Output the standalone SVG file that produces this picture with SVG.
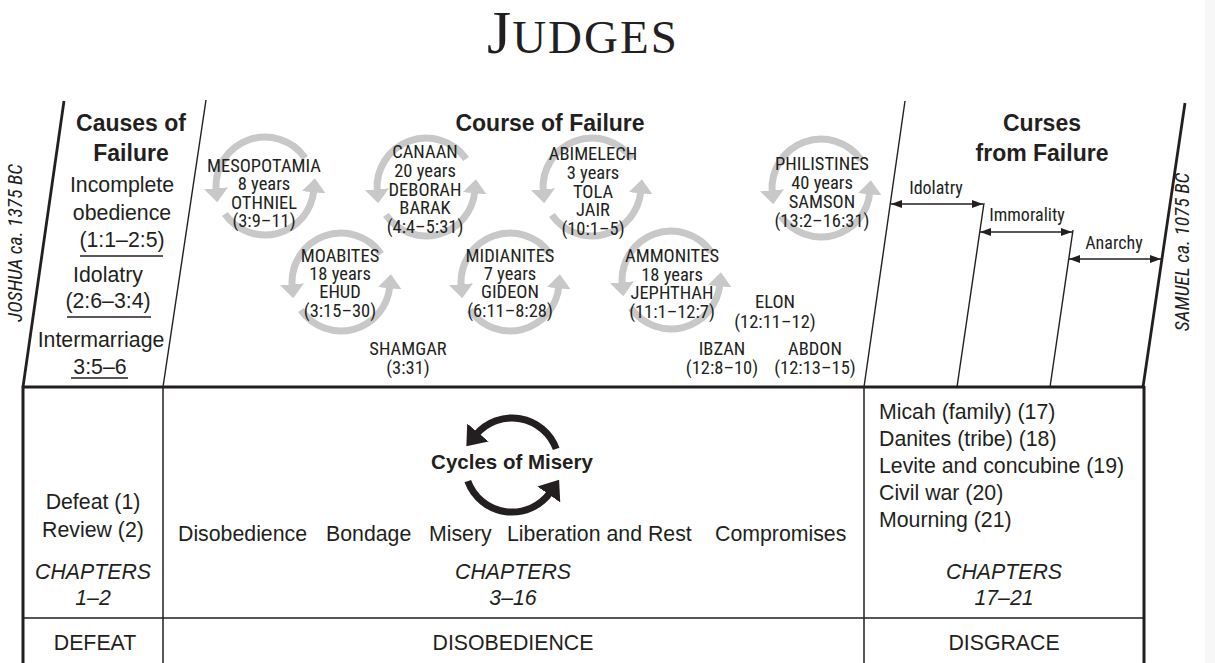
<svg xmlns="http://www.w3.org/2000/svg" width="1215" height="663" viewBox="0 0 1215 663">
<style>
.n{font-family:"Liberation Sans Narrow","Roboto Condensed","Liberation Sans",Arial,sans-serif;font-size:18.5px;fill:#231f20;text-anchor:middle}
.r{font-family:"Liberation Sans",Arial,sans-serif;font-size:21.3px;fill:#231f20}
.c{text-anchor:middle}
.b{font-weight:bold;font-size:23px}
.i{font-style:italic}
.arc{fill:none;stroke:#c8c8c8;stroke-width:7}
.ln{stroke:#231f20;fill:none;stroke-width:1.4}
.tk{stroke-width:2.8}
</style>
<defs>
<marker id="ga" viewBox="0 0 14 24" refX="2" refY="12" markerWidth="14" markerHeight="24" markerUnits="userSpaceOnUse" orient="auto"><path d="M0,0 L14,12 L0,24 z" fill="#c8c8c8"/></marker>
<marker id="ba" viewBox="0 0 18 28" refX="3" refY="14" markerWidth="18" markerHeight="28" markerUnits="userSpaceOnUse" orient="auto"><path d="M0,0 L18,14 L0,28 z" fill="#231f20"/></marker>
<marker id="sa" viewBox="0 0 11 8" refX="11" refY="4" markerWidth="11" markerHeight="8" markerUnits="userSpaceOnUse" orient="auto-start-reverse"><path d="M0,0 L11,4 L0,8 z" fill="#231f20"/></marker>
<g id="cyc"><path class="arc" d="M40.1,-28.1 A49,49 0 0 0 -48.8,4.3" marker-end="url(#ga)"/><path class="arc" d="M-40.1,28.1 A49,49 0 0 0 48.8,4.3" marker-end="url(#ga)"/></g>
</defs>
<rect x="0" y="0" width="1215" height="663" fill="#ffffff"/>
<rect x="1205" y="0" width="10" height="663" fill="#f7f7f7"/>

<text x="487" y="53" font-family="'Liberation Serif',serif" fill="#231f20"><tspan font-size="62">J</tspan><tspan dx="1" font-size="47" letter-spacing="2">UDGES</tspan></text>

<g id="frame">
<path class="ln tk" d="M23,387 L64,101"/>
<path class="ln" d="M163,387 L206,100"/>
<path class="ln" d="M864,387 L905,101"/>
<path class="ln" d="M957,387 L984,203"/>
<path class="ln" d="M1050,387 L1073,230"/>
<path class="ln tk" d="M1143,387 L1185,103"/>
<path class="ln tk" d="M22,387 H1145"/>
<path class="ln" style="stroke-width:3" d="M23,386 V663"/>
<path class="ln" style="stroke-width:3" d="M1144,386 V663"/>
<path class="ln" style="stroke-width:1.5" d="M163,387 V663 M864,387 V663 M23,618 H1144"/>
</g>

<g id="connectors">
<path class="ln" d="M891,204 H983" marker-start="url(#sa)" marker-end="url(#sa)"/>
<path class="ln" d="M980,232 H1072" marker-start="url(#sa)" marker-end="url(#sa)"/>
<path class="ln" d="M1069,259 H1161" marker-start="url(#sa)" marker-end="url(#sa)"/>
<path fill="none" stroke="#231f20" stroke-width="7" d="M556.2,448.9 A47,47 0 0 0 476,434.8" marker-end="url(#ba)"/>
<path fill="none" stroke="#231f20" stroke-width="7" d="M467.8,481.1 A47,47 0 0 0 550.5,492" marker-end="url(#ba)"/>
</g>

<g id="dates">
<text class="n i" style="font-size:19.5px" transform="translate(22,243) rotate(-90)">JOSHUA ca. 1375 BC</text>
<text class="n i" style="font-size:19.5px" transform="translate(1189,252) rotate(-90)">SAMUEL ca. 1075 BC</text>
</g>

<g id="causes">
<text class="r c b" x="131" y="131">Causes of</text>
<text class="r c b" x="131" y="161">Failure</text>
<text class="r c" x="122" y="192">Incomplete</text>
<text class="r c" x="122" y="220">obedience</text>
<text class="r c" x="122" y="247">(1:1–2:5)</text>
<line class="ln" x1="80" y1="256" x2="163" y2="256"/>
<text class="r c" x="108" y="282">Idolatry</text>
<text class="r c" x="108" y="308">(2:6–3:4)</text>
<line class="ln" x1="67" y1="317" x2="151" y2="317"/>
<text class="r c" x="101" y="347">Intermarriage</text>
<text class="r c" x="100" y="374">3:5–6</text>
<line class="ln" x1="71" y1="378" x2="128" y2="378"/>
</g>

<g id="course-title"><text class="r c b" x="550" y="131">Course of Failure</text></g>

<g id="c-mesopotamia"><use href="#cyc" x="265" y="186"/>
<text class="n" x="264" y="172">MESOPOTAMIA</text><text class="n" x="264" y="190">8 years</text><text class="n" x="264" y="209">OTHNIEL</text><text class="n" x="264" y="227">(3:9–11)</text></g>
<g id="c-canaan"><use href="#cyc" x="426" y="187"/>
<text class="n" x="425" y="158">CANAAN</text><text class="n" x="425" y="177">20 years</text><text class="n" x="425" y="196">DEBORAH</text><text class="n" x="425" y="214">BARAK</text><text class="n" x="425" y="233">(4:4–5:31)</text></g>
<g id="c-abimelech"><use href="#cyc" x="592" y="187"/>
<text class="n" x="593" y="160">ABIMELECH</text><text class="n" x="593" y="179">3 years</text><text class="n" x="593" y="198">TOLA</text><text class="n" x="593" y="216">JAIR</text><text class="n" x="593" y="235">(10:1–5)</text></g>
<g id="c-philistines"><use href="#cyc" x="821" y="188"/>
<text class="n" x="822" y="170">PHILISTINES</text><text class="n" x="822" y="189">40 years</text><text class="n" x="822" y="208">SAMSON</text><text class="n" x="822" y="227">(13:2–16:31)</text></g>
<g id="c-moabites"><use href="#cyc" x="341" y="282"/>
<text class="n" x="340" y="262">MOABITES</text><text class="n" x="340" y="280">18 years</text><text class="n" x="340" y="298">EHUD</text><text class="n" x="340" y="317">(3:15–30)</text></g>
<g id="c-midianites"><use href="#cyc" x="510" y="282"/>
<text class="n" x="510" y="262">MIDIANITES</text><text class="n" x="510" y="280">7 years</text><text class="n" x="510" y="298">GIDEON</text><text class="n" x="510" y="317">(6:11–8:28)</text></g>
<g id="c-ammonites"><use href="#cyc" x="671" y="280"/>
<text class="n" x="672" y="262">AMMONITES</text><text class="n" x="672" y="281">18 years</text><text class="n" x="672" y="299">JEPHTHAH</text><text class="n" x="672" y="318">(11:1–12:7)</text></g>
<g id="j-shamgar"><text class="n" x="408" y="355">SHAMGAR</text><text class="n" x="408" y="374">(3:31)</text></g>
<g id="j-elon"><text class="n" x="775" y="308">ELON</text><text class="n" x="775" y="328">(12:11–12)</text></g>
<g id="j-ibzan"><text class="n" x="722" y="355">IBZAN</text><text class="n" x="722" y="374">(12:8–10)</text></g>
<g id="j-abdon"><text class="n" x="815" y="355">ABDON</text><text class="n" x="815" y="374">(12:13–15)</text></g>

<g id="curses">
<text class="r c b" x="1042" y="131">Curses</text>
<text class="r c b" x="1042" y="161">from Failure</text>
<text class="n" style="font-size:18px" x="936" y="194">Idolatry</text>
<text class="n" style="font-size:18px" x="1027" y="221">Immorality</text>
<text class="n" style="font-size:18px" x="1114" y="249">Anarchy</text>
</g>

<g id="cell-defeat">
<text class="r c" x="93" y="509">Defeat (1)</text>
<text class="r c" x="93" y="537">Review (2)</text>
<text class="r c i" x="93" y="579">CHAPTERS</text>
<text class="r c i" x="93" y="605">1–2</text>
<text class="r c" x="95" y="650">DEFEAT</text>
</g>
<g id="cell-disobedience">
<text class="r c b" style="font-size:20.5px" x="512" y="469">Cycles of Misery</text>
<text class="r" x="178" y="541">Disobedience</text>
<text class="r" x="326" y="541">Bondage</text>
<text class="r" x="429" y="541">Misery</text>
<text class="r" x="507" y="541">Liberation and Rest</text>
<text class="r" x="715" y="541">Compromises</text>
<text class="r c i" x="513" y="579">CHAPTERS</text>
<text class="r c i" x="513" y="605">3–16</text>
<text class="r c" x="513" y="650">DISOBEDIENCE</text>
</g>
<g id="cell-disgrace">
<text class="r" x="879" y="419">Micah (family) (17)</text>
<text class="r" x="879" y="446">Danites (tribe) (18)</text>
<text class="r" x="879" y="473">Levite and concubine (19)</text>
<text class="r" x="879" y="500">Civil war (20)</text>
<text class="r" x="879" y="527">Mourning (21)</text>
<text class="r c i" x="1004" y="579">CHAPTERS</text>
<text class="r c i" x="1004" y="605">17–21</text>
<text class="r c" x="1004" y="650">DISGRACE</text>
</g>
</svg>
